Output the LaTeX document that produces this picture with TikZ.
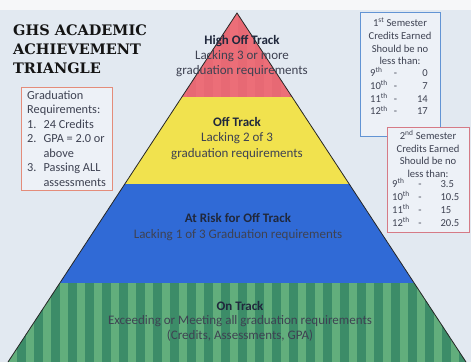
\documentclass[tikz,border=0pt]{standalone}
\usepackage{fontspec}
\setmainfont{Carlito}
\newfontfamily\titlefont{DejaVu Serif}
\usetikzlibrary{positioning}

\definecolor{posterbg}{RGB}{226,233,241}
\definecolor{postertop}{RGB}{246,247,249}
\definecolor{highred}{RGB}{236,110,120}
\definecolor{highreddark}{RGB}{214,88,102}
\definecolor{offyellow}{RGB}{241,226,78}
\definecolor{riskblue}{RGB}{48,106,214}
\definecolor{ongreen}{RGB}{98,174,124}
\definecolor{ongreendark}{RGB}{60,140,104}
\definecolor{inkdark}{RGB}{32,40,60}
\definecolor{inkgray}{RGB}{62,66,82}
\definecolor{gradframe}{RGB}{228,140,122}
\definecolor{semblue}{RGB}{98,148,212}
\definecolor{semred}{RGB}{214,122,134}
\definecolor{boxfill}{RGB}{237,241,247}

\begin{document}
\begin{tikzpicture}[
    x=1pt, y=-1pt,
    bandtext/.style={
		align=center,
		text=inkgray,
		font=\fontsize{13}{15.5}\selectfont
	},
	infobox/.style={
		rectangle,
		draw,
		line width=0.9pt,
		fill=boxfill,
		inner sep=0pt
	},
	boxtext/.style={
		text=inkgray,
		inner sep=0pt,
		font=\fontsize{10.6}{12.6}\selectfont
	}
  ]
  \useasboundingbox (0,0) rectangle (471,362);
  % poster background
  \fill[posterbg] (0,0) rectangle (471,362);
  \fill[postertop] (0,0) rectangle (471,10);

  % the triangle and its four bands
  \coordinate (apex) at (237,13);
  \coordinate (baseL) at (8,362);
  \coordinate (baseR) at (466,362);
  \begin{scope}
    \clip (apex) -- (baseL) -- (baseR) -- cycle;
    \fill[highred] (0,0) rectangle (471,97);
    \foreach \x in {0,17,...,476}
      \fill[highreddark, opacity=0.2] (\x,0) rectangle ++(8.5,97);
    \fill[offyellow] (0,97) rectangle (471,184);
    \fill[riskblue] (0,184) rectangle (471,283);
    \fill[ongreen] (0,283) rectangle (471,362);
    \foreach \x in {0,17,...,476}
      \fill[ongreendark] (\x,283) rectangle ++(8.5,79);
  \end{scope}
  \draw[line width=0.8pt, black!85] (baseL) -- (apex) -- (baseR);

  % band texts
  \node [bandtext, font=\fontsize{13}{15}\selectfont] (high) at (242,56.5)
 {\textcolor{inkdark}{\textbf{High Off Track}}\\Lacking 3 or more\\graduation requirements};
  \node [bandtext] (off) at (237,138.5)
 {\textcolor{inkdark}{\textbf{Off Track}}\\Lacking 2 of 3\\graduation requirements};
  \node [bandtext, font=\fontsize{13}{16}\selectfont] (risk) at (238,227.5)
 {\textcolor{inkdark}{\textbf{At Risk for Off Track}}\\Lacking 1 of 3 Graduation requirements};
  \node [bandtext, font=\fontsize{13}{14.5}\selectfont] (ontrack) at (240,321)
 {\textcolor{inkdark}{\textbf{On Track}}\\Exceeding or Meeting all graduation requirements\\(Credits, Assessments, GPA)};

  % title
  \node [anchor=west, inner sep=0pt, align=left, text=black!92,
    font=\titlefont\bfseries\fontsize{14.5}{19}\selectfont] (title) at (13,49)
 {GHS ACADEMIC\\ACHIEVEMENT\\TRIANGLE};

  % graduation requirements
  \node [infobox, draw=gradframe, minimum width=91pt, minimum height=103pt] (gradbox) at (66.5,138.5) {};
  \node [anchor=west, text=inkgray, inner sep=0pt, font=\fontsize{12.3}{14.5}\selectfont] (gradtext) at (27,140)
 {%
 \begin{tabular}{@{}l@{\hspace{7pt}}l@{}}
  \multicolumn{2}{@{}l}{Graduation}\\
  \multicolumn{2}{@{}l}{Requirements:}\\
  1. & 24 Credits\\
  2. & GPA = 2.0 or\\
     & above\\
  3. & Passing ALL\\
     & assessments
 \end{tabular}
 };

  % first semester
  \node [infobox, draw=semblue, minimum width=80pt, minimum height=124pt] (sem1) at (400,74) {};
  \node [boxtext, align=center] (sem1head) at (400,41.5)
 {1\textsuperscript{st} Semester\\Credits Earned\\Should be no\\less than:};
  \node [boxtext, anchor=west, font=\fontsize{10.6}{12.4}\selectfont] (sem1rows) at (370,93)
 {%
 \begin{tabular}{@{}l@{\hspace{6pt}}l@{\hspace{20pt}}r@{}}
  9\textsuperscript{th} & - & 0\\
  10\textsuperscript{th} & - & 7\\
  11\textsuperscript{th} & - & 14\\
  12\textsuperscript{th} & - & 17
 \end{tabular}
 };

  % second semester
  \node [infobox, draw=semred, minimum width=82pt, minimum height=105pt] (sem2) at (428,179.5) {};
  \node [boxtext, align=center] (sem2head) at (428,154)
 {2\textsuperscript{nd} Semester\\Credits Earned\\Should be no\\less than:};
  \node [boxtext, anchor=west, font=\fontsize{10.6}{12.8}\selectfont] (sem2rows) at (392,204.5)
 {%
 \begin{tabular}{@{}l@{\hspace{8.5pt}}l@{\hspace{19pt}}l@{}}
  9\textsuperscript{th} & - & 3.5\\
  10\textsuperscript{th} & - & 10.5\\
  11\textsuperscript{th} & - & 15\\
  12\textsuperscript{th} & - & 20.5
 \end{tabular}
 };

\end{tikzpicture}
\end{document}
